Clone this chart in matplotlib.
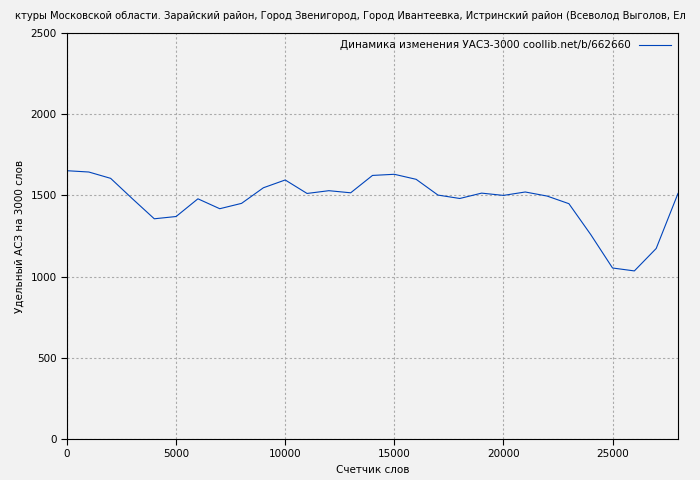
import matplotlib
matplotlib.use("Agg")
import matplotlib.pyplot as plt

x_words = [i * 1000 for i in range(29)]
uasz = [1652, 1644, 1605, 1479, 1356, 1370, 1479, 1418, 1451, 1547, 1595, 1512, 1529, 1516,
        1623, 1630, 1599, 1502, 1481, 1514, 1500, 1521, 1496, 1449, 1259, 1053, 1035, 1173, 1512]
title = "ктуры Московской области. Зарайский район, Город Звенигород, Город Ивантеевка, Истринский район (Всеволод Выголов, Ел"
legend_label = "Динамика изменения УАСЗ-3000 coollib.net/b/662660"

fig = plt.figure(figsize=(7, 4.8), dpi=100, facecolor="#f2f2f2")
ax = fig.add_axes([67/700, 1-439/480, 611/700, 406/480], facecolor="#f2f2f2")
ax.plot(x_words, uasz, color="#0044bb", lw=0.8, label=legend_label)
ax.set_xlim(0, 28000)
ax.set_ylim(0, 2500)
ax.set_xticks([0, 5000, 10000, 15000, 20000, 25000])
ax.set_yticks([0, 500, 1000, 1500, 2000, 2500])
ax.grid(True, color="#aaaaaa", ls=(0, (2, 2)), lw=0.8)
ax.tick_params(labelsize=7.5, direction="out", length=4)
ax.set_xlabel("Счетчик слов", fontsize=7.5)
ax.set_ylabel("Удельный АСЗ на 3000 слов", fontsize=7.5)
ax.legend(loc="upper right", fontsize=7.5, frameon=False, handlelength=3, markerfirst=False,
          borderaxespad=0.3)
fig.text(0.5, 1-16/480, title, fontsize=7.2, ha="center", va="center")
fig.savefig("out.png", dpi=100, facecolor="#f2f2f2")
